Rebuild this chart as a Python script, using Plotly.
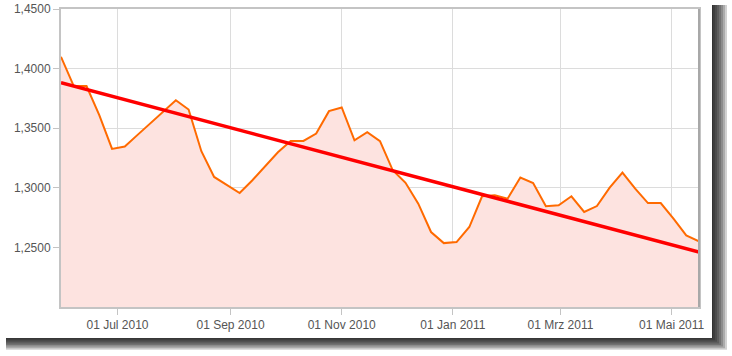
import plotly.graph_objects as go
import pandas as pd

# ---- data ----
dates = pd.date_range("2010-05-31", periods=51, freq="7D").strftime("%Y-%m-%d").tolist()
rates = [1.4099, 1.3853, 1.3853, 1.3609, 1.3326, 1.3346, 1.3444, 1.3541, 1.3639, 1.3735,
         1.3657, 1.3307, 1.3091, 1.3025, 1.2956, 1.3063, 1.3181, 1.3298, 1.3393, 1.3393,
         1.3455, 1.3643, 1.3674, 1.3399, 1.3466, 1.3391, 1.3147, 1.3042, 1.2867, 1.2629,
         1.2536, 1.2545, 1.2671, 1.2929, 1.2937, 1.2909, 1.3086, 1.3040, 1.2845, 1.2853,
         1.2929, 1.2797, 1.2847, 1.3002, 1.3128, 1.2993, 1.2872, 1.2872, 1.2741, 1.2601,
         1.2550]
trend_dates = ["2010-05-31", "2011-05-16"]
trend_values = [1.3881, 1.2461]
x_tick_vals = ["2010-07-01", "2010-09-01", "2010-11-01", "2011-01-01", "2011-03-01", "2011-05-01"]
x_tick_text = ["01 Jul 2010", "01 Sep 2010", "01 Nov 2010", "01 Jan 2011", "01 Mrz 2011", "01 Mai 2011"]
y_tick_vals = [1.25, 1.30, 1.35, 1.40, 1.45]

W, H = 732, 356
L, R, T, B = 61, 33, 9, 49
pw, ph = W - L - R, H - T - B


def px(x):
    return (x - L) / pw


def py(y):
    return (H - B - y) / ph


fig = go.Figure()
fig.add_trace(go.Scatter(x=dates, y=rates, mode="lines",
                         line=dict(color="#FF6A00", width=2),
                         fill="tozeroy", fillcolor="#FDE3E0", hoverinfo="skip"))
fig.add_trace(go.Scatter(x=trend_dates, y=trend_values, mode="lines",
                         line=dict(color="#FF0000", width=3.5), hoverinfo="skip"))

shapes = []
# drop shadow (stacked translucent rects)
for s in range(1, 9):
    shapes.append(dict(type="rect", xref="paper", yref="paper", layer="below",
                       x0=px(6), x1=px(711 + 2 * s), y0=py(5), y1=py(337 + 1.6 * s),
                       fillcolor="rgba(0,0,0,0.18)", line=dict(width=0)))
# white card
shapes.append(dict(type="rect", xref="paper", yref="paper", layer="below",
                   x0=px(-2), x1=px(712), y0=py(-2), y1=py(338),
                   fillcolor="white", line=dict(width=0)))
# darker right border
shapes.append(dict(type="line", xref="paper", yref="paper", layer="above",
                   x0=1, x1=1, y0=0, y1=1, line=dict(color="#A8A8A8", width=2)))

fig.update_layout(
    width=W, height=H,
    margin=dict(l=L, r=R, t=T, b=B, autoexpand=False),
    paper_bgcolor="white", plot_bgcolor="white",
    showlegend=False,
    separators=",.",
    font=dict(family="Liberation Sans, Arial, sans-serif", size=12, color="#555555"),
    shapes=shapes,
    xaxis=dict(type="date", range=[trend_dates[0], trend_dates[1]],
               tickvals=x_tick_vals, ticktext=x_tick_text,
               showgrid=True, gridcolor="#DCDCDC", gridwidth=1,
               showline=True, linecolor="#C4C4C4", linewidth=2, mirror=True,
               ticks="outside", ticklen=6, tickcolor="#C4C4C4", tickwidth=1,
               zeroline=False, fixedrange=True, automargin=False),
    yaxis=dict(range=[1.2, 1.45], tickvals=y_tick_vals, tickformat=".4f",
               showgrid=True, gridcolor="#DCDCDC", gridwidth=1,
               showline=True, linecolor="#C4C4C4", linewidth=2, mirror=True,
               ticks="outside", ticklen=6, tickcolor="#C4C4C4", tickwidth=1,
               zeroline=False, fixedrange=True, automargin=False),
)

fig.write_html("out.html")
